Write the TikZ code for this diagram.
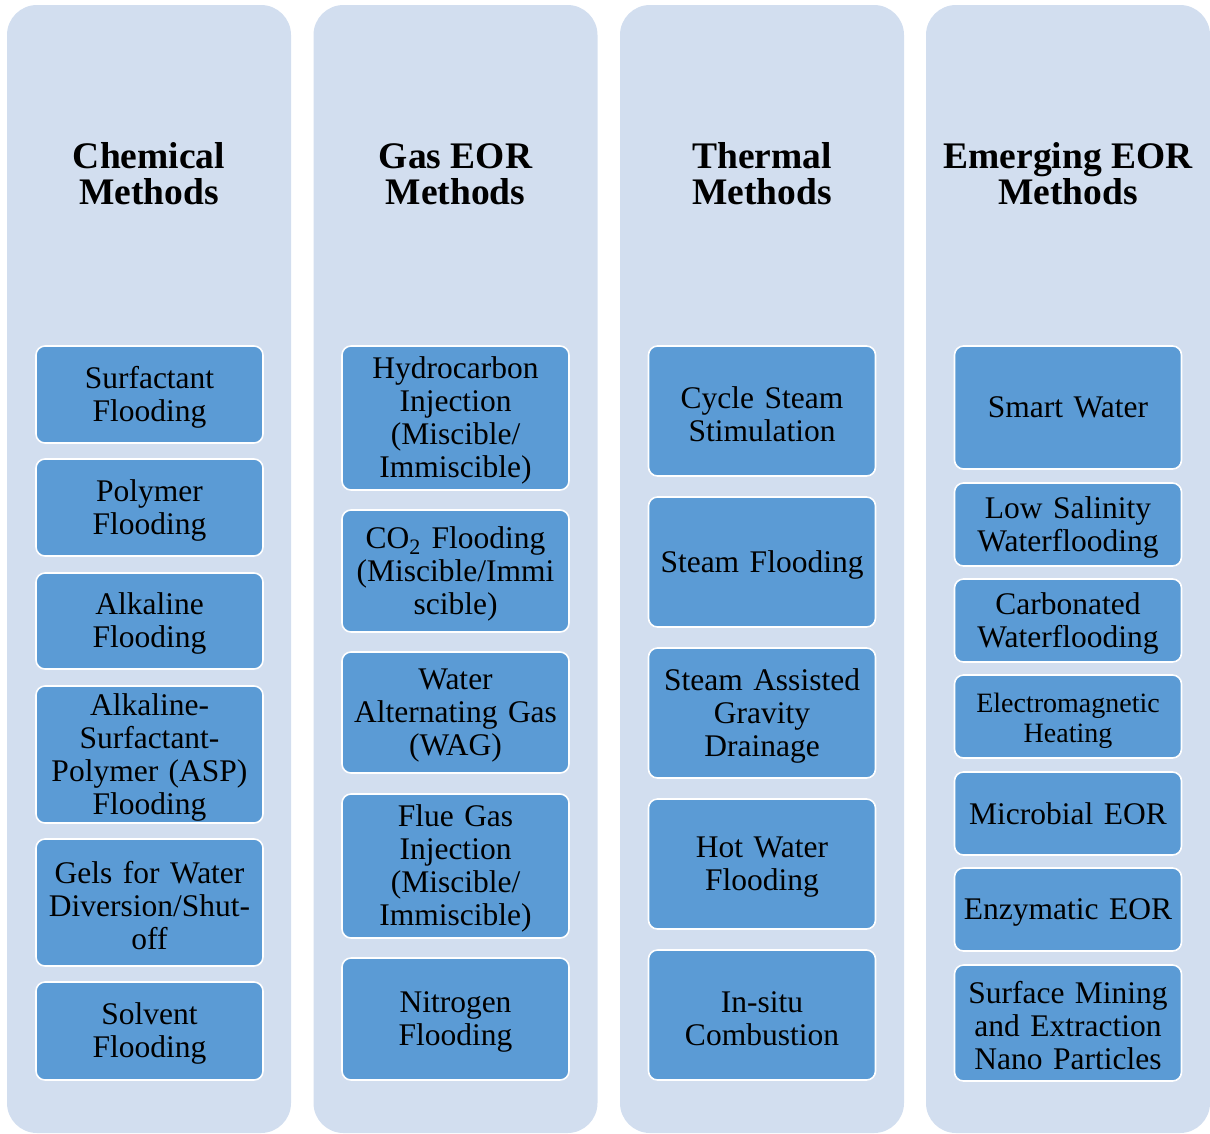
\documentclass[tikz,border=0pt]{standalone}
\usepackage{fontspec}
\setmainfont{Liberation Serif}
\definecolor{bgblue}{RGB}{210,222,239}
\definecolor{boxblue}{RGB}{91,155,213}
\newcommand\boxfont{\fontsize{31.5}{33}\selectfont}
\newcommand\smallboxfont{\fontsize{28}{30}\selectfont}
\newcommand\titlefont{\fontsize{37.5}{36}\selectfont\bfseries}
\newcommand\boxstrut{\rule{0pt}{27.5pt}}
\begin{document}
\begin{tikzpicture}[x=1pt,y=-1pt,
  colbg/.style={fill=bgblue, rounded corners=30pt},
  title/.style={align=center, font=\titlefont, text=black},
  box/.style={draw=white, line width=1.6pt, fill=boxblue, rounded corners=9pt,
    text width=217pt, inner xsep=5pt, inner ysep=0pt, align=center,
    font=\boxfont, text=black, execute at begin node={\boxstrut\ignorespaces}},
  nostrut/.style={execute at begin node={\let\boxstrut\relax}}]
\useasboundingbox (0,0) rectangle (1210,1133);
% column backgrounds
\fill[colbg] (7,5) rectangle (291,1133);
\fill[colbg] (313.5,5) rectangle (597.5,1133);
\fill[colbg] (620,5) rectangle (904,1133);
\fill[colbg] (926,5) rectangle (1210,1133);
% titles
\node[title] (tc) at (149,174) {Chemical\\Methods};
\node[title] (tg) at (455.5,174) {Gas EOR\\Methods};
\node[title] (tt) at (762,174) {Thermal\\Methods};
\node[title] (te) at (1068,174) {Emerging EOR\\Methods};
% chemical
\node[box, minimum height=97pt] (c1) at (149.5,394.5) {Surfactant\\Flooding};
\node[box, minimum height=97pt] (c2) at (149.5,507.5) {Polymer\\Flooding};
\node[box, minimum height=96pt] (c3) at (149.5,621) {Alkaline\\Flooding};
\node[box, minimum height=137pt] (c4) at (149.5,754.5) {Alkaline-\\Surfactant-\\Polymer (ASP)\\Flooding};
\node[box, minimum height=127pt] (c5) at (149.5,902.5) {Gels for Water\\Diversion/Shut-\\off};
\node[box, minimum height=98pt] (c6) at (149.5,1031) {Solvent\\Flooding};
% gas
\node[box, minimum height=144pt] (g1) at (455.5,418) {Hydrocarbon\\Injection\\(Miscible/\\Immiscible)};
\node[box, minimum height=122pt] (g2) at (455.5,571) {CO\textsubscript{2} Flooding\\(Miscible/Immi\\scible)};
\node[box, minimum height=121pt] (g3) at (455.5,712.5) {Water\\Alternating Gas\\(WAG)};
\node[box, minimum height=144pt] (g4) at (455.5,866) {Flue Gas\\Injection\\(Miscible/\\Immiscible)};
\node[box, minimum height=122pt] (g5) at (455.5,1019) {Nitrogen\\Flooding};
% thermal
\node[box, minimum height=130pt] (t1) at (762,411) {Cycle Steam\\Stimulation};
\node[box, minimum height=130pt] (t2) at (762,562) {Steam Flooding};
\node[box, minimum height=130pt] (t3) at (762,713) {Steam Assisted\\Gravity\\Drainage};
\node[box, minimum height=130pt] (t4) at (762,864) {Hot Water\\Flooding};
\node[box, minimum height=130pt] (t5) at (762,1015) {In-situ\\Combustion};
% emerging
\node[nostrut, box, minimum height=123pt] (e1) at (1068,407.5) {Smart Water};
\node[box, minimum height=83pt] (e2) at (1068,524.5) {Low Salinity\\Waterflooding};
\node[box, minimum height=83pt] (e3) at (1068,620.5) {Carbonated\\Waterflooding};
\node[box, minimum height=83pt, font=\smallboxfont] (e4) at (1068,716.5) {Electromagnetic\\Heating};
\node[nostrut, box, minimum height=83pt] (e5) at (1068,813.5) {Microbial EOR};
\node[box, minimum height=83pt] (e6) at (1068,909.5) {Enzymatic EOR};
\node[box, minimum height=116pt] (e7) at (1068,1023) {Surface Mining\\and Extraction\\Nano Particles};
\end{tikzpicture}
\end{document}
